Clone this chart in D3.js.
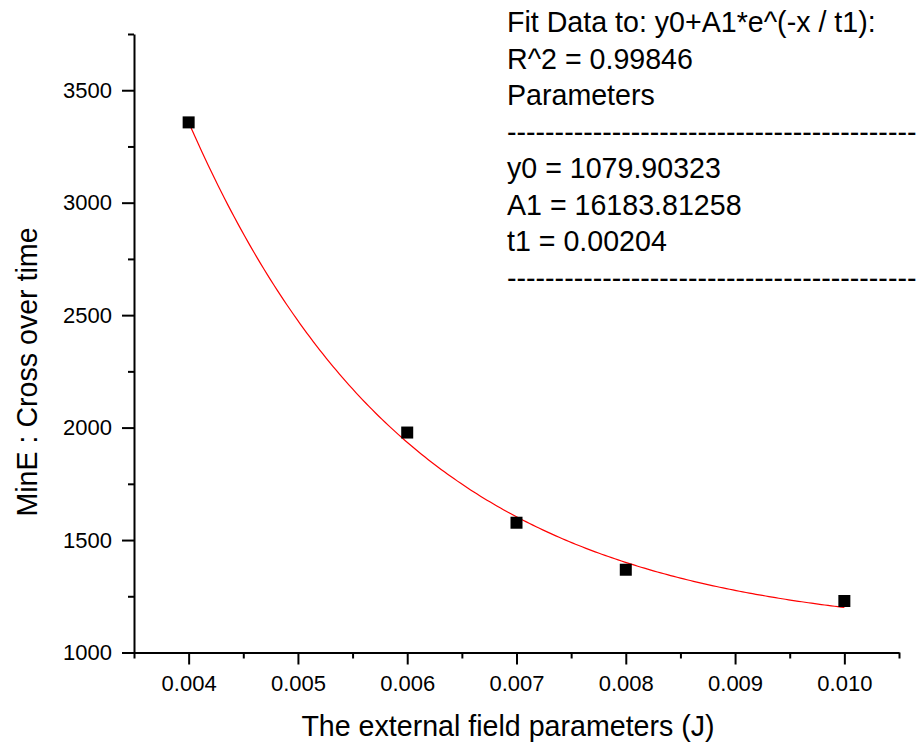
<!DOCTYPE html>
<html>
<head>
<meta charset="utf-8">
<script src="https://cdn.jsdelivr.net/npm/d3@7"></script>
<style>
  body { margin: 0; background: #fff; }
  svg text { font-family: "Liberation Sans", Arial, sans-serif; fill: #000; }
</style>
</head>
<body>
<svg id="chart" width="924" height="747"></svg>
<script>
// measured points
var fieldJ = [0.004, 0.006, 0.007, 0.008, 0.010];
var crossTime = [3357, 1978, 1577, 1368, 1229];

// fit parameters shown on the chart
var fitY0 = 1079.90323;
var fitA1 = 16183.81258;
var fitT1 = 0.00204;

var xMajorTicks = [0.004, 0.005, 0.006, 0.007, 0.008, 0.009, 0.010];
var xMinorTicks = [0.0035, 0.0045, 0.0055, 0.0065, 0.0075, 0.0085, 0.0095, 0.0105];
var yMajorTicks = [1000, 1500, 2000, 2500, 3000, 3500];
var yMinorTicks = [1250, 1750, 2250, 2750, 3250, 3750];

var dashes = '-------------------------------------------';
var fitLines = [
  "Fit Data to: y0+A1*e^(-x / t1):",
  "R^2 = 0.99846",
  "Parameters",
  dashes,
  "y0 = 1079.90323",
  "A1 = 16183.81258",
  "t1 = 0.00204",
  dashes
];

function drawChart() {
  var svg = d3.select('#chart');

  var x = d3.scaleLinear().domain([0.0035, 0.0105]).range([134, 899]);
  var y = d3.scaleLinear().domain([1000, 3750]).range([652.5, 34]);

  // x axis
  svg.append('g')
    .attr('transform', 'translate(0,652.5)')
    .call(d3.axisBottom(x).tickValues(xMinorTicks).tickSize(6).tickFormat(''))
    .call(function(g) { g.select('.domain').remove(); });
  var xAxis = svg.append('g')
    .attr('transform', 'translate(0,652.5)')
    .call(d3.axisBottom(x).tickValues(xMajorTicks).tickSize(12).tickSizeOuter(0).tickFormat(d3.format('.3f')));
  xAxis.selectAll('text').attr('dy', null).attr('y', 38).style('font-size', '22px');

  // y axis
  svg.append('g')
    .attr('transform', 'translate(134,0)')
    .call(d3.axisLeft(y).tickValues(yMinorTicks).tickSize(6).tickFormat(''))
    .call(function(g) { g.select('.domain').remove(); });
  var yAxis = svg.append('g')
    .attr('transform', 'translate(134,0)')
    .call(d3.axisLeft(y).tickValues(yMajorTicks).tickSize(12).tickSizeOuter(0).tickFormat(d3.format('d')));
  yAxis.selectAll('text').attr('x', -22).style('font-size', '22px');

  svg.selectAll('.domain, .tick line')
    .attr('stroke', '#000')
    .attr('stroke-width', 2);

  // fitted curve
  var curveX = d3.range(0, 201).map(function(i) {
    return fieldJ[0] + (fieldJ[fieldJ.length - 1] - fieldJ[0]) * i / 200;
  });
  svg.append('path')
    .datum(curveX)
    .attr('fill', 'none')
    .attr('stroke', '#ff0000')
    .attr('stroke-width', 1.2)
    .attr('d', d3.line()
      .x(function(d) { return x(d); })
      .y(function(d) { return y(fitY0 + fitA1 * Math.exp(-d / fitT1)); }));

  // points
  svg.selectAll('rect.pt')
    .data(fieldJ)
    .enter()
    .append('rect')
      .attr('class', 'pt')
      .attr('x', function(d) { return x(d) - 6; })
      .attr('y', function(d, i) { return y(crossTime[i]) - 6; })
      .attr('width', 12)
      .attr('height', 12)
      .attr('fill', '#000');

  // axis titles
  svg.append('text')
    .attr('x', 508)
    .attr('y', 736)
    .attr('text-anchor', 'middle')
    .style('font-size', '28.6px')
    .text('The external field parameters (J)');

  svg.append('text')
    .attr('transform', 'translate(37,372) rotate(-90)')
    .attr('text-anchor', 'middle')
    .style('font-size', '28.6px')
    .text('MinE : Cross over time');

  // fit result text
  svg.append('g')
    .selectAll('text')
    .data(fitLines)
    .enter()
    .append('text')
      .attr('x', 507)
      .attr('y', function(d, i) { return 32 + i * 36.5; })
      .style('font-size', '28.6px')
      .text(function(d) { return d; });
}

drawChart();
</script>
</body>
</html>
